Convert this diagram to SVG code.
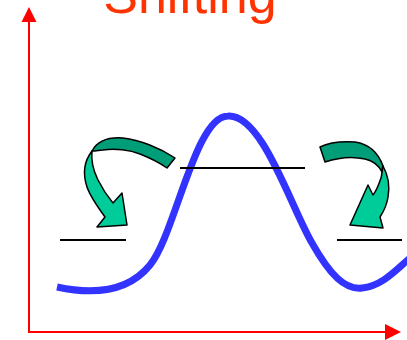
<svg xmlns="http://www.w3.org/2000/svg" width="407" height="340" viewBox="0 0 407 340">
<style>
.axis{stroke:#FF0000;stroke-width:2;fill:none}
.head{fill:#FF0000}
.level{stroke:#000;stroke-width:2}
.back{fill:#009E78;stroke:#000;stroke-width:1.5;stroke-linejoin:round}
.front{fill:#00CC99;stroke:#000;stroke-width:1.5;stroke-linejoin:round}
.title{font-family:"Liberation Sans",Arial,sans-serif;font-size:52px;fill:#FF3300}
</style>
<rect width="407" height="340" fill="#fff"/>
<text class="title" x="190" y="13" text-anchor="middle">Shifting</text>
<g id="axes">
<line class="axis" x1="29" y1="333" x2="29" y2="21"/>
<polygon class="head" points="29,7 21.5,22 36.5,22"/>
<line class="axis" x1="28" y1="332" x2="386" y2="332"/>
<polygon class="head" points="401,332 385,324 385,340"/>
</g>
<g id="curve">
<path d="M57,287 C85,293 125,296 150,265 C175,235 195,116 228,116 C262,114 290,205 312,243 C330,275 345,290 362,288 C382,286 396,270 410,258" fill="none" stroke="#3333FF" stroke-width="7"/>
</g>
<g id="levels">
<line class="level" x1="60" y1="240" x2="126" y2="240"/>
<line class="level" x1="180" y1="168" x2="305" y2="168"/>
<line class="level" x1="337" y1="240" x2="402" y2="240"/>
</g>
<g id="arrow-left">
<path class="back" d="M175,158 C160,148 140,140 123,138 C110,137 98,140 92,151 C96,151 100,150 103,150 C115,148 130,150 140,154 C150,158 160,163 167,168 Z"/>
<path class="front" d="M92,151 C85,160 82,172 87,187 C90,196 97,206 105,217 L97,227 L127,225 L122,193 L113,203 C108,197 103,190 98,180 C93,170 91,160 92,151 Z"/>
</g>
<g id="arrow-right">
<path class="back" d="M320,147 C328,143 340,141 355,142 C368,144 378,152 383,166 C382,168 382,170 382,172 C379,166 374,161 365,159 C352,156 337,158 325,162 Z"/>
<path class="front" d="M383,166 C388,175 390,186 388,197 C387,204 384,211 380,217 L383,228 L350,225 L368,185 L373,195 C377,190 379,184 381,178 C382,175 382,170 383,166 Z"/>
</g>
</svg>
